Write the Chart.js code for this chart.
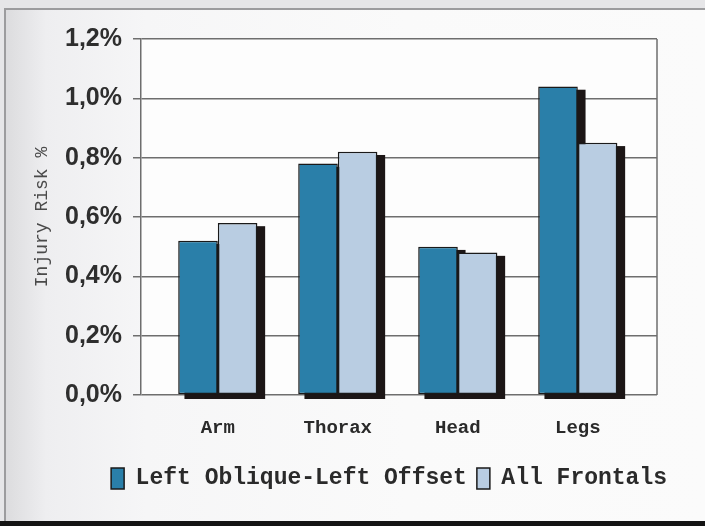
<!DOCTYPE html>
<html>
<head>
<meta charset="utf-8">
<script src="https://cdn.jsdelivr.net/npm/chart.js@4"></script>
<style>
  html, body { margin: 0; padding: 0; }
  body { width: 705px; height: 526px; background: #e6e6e8; position: relative; overflow: hidden; }
  .sheet {
    position: absolute; left: 4px; top: 8px; width: 700px; height: 512px;
    border-left: 2px solid #9c9c9e; border-top: 2px solid #9c9c9e;
    background: linear-gradient(to right, #dcdcde 0px, #eeeef0 40px, #f6f6f7 140px, #fafafa 400px, #fbfbfb 705px);
  }
  .edge { position: absolute; left: 0; top: 521px; width: 705px; height: 5px; background: #141414; }
  #wrap { position: absolute; left: 0; top: 0; width: 705px; height: 526px; }
</style>
</head>
<body>
<div class="sheet"></div>
<div class="edge"></div>
<div id="wrap"><canvas id="chart" width="705" height="526"></canvas></div>
<script>
// Injury risk (%) by body region
const categories = ['Arm', 'Thorax', 'Head', 'Legs'];
const leftObliqueLeftOffset = [0.52, 0.78, 0.50, 1.04];
const allFrontals = [0.58, 0.82, 0.48, 0.85];
const seriesNames = ['Left Oblique-Left Offset', 'All Frontals'];
const yTicks = [0.0, 0.2, 0.4, 0.6, 0.8, 1.0, 1.2];

const toPoints = vals => vals.map((v, i) => ({ x: i, y: v }));
const fmtPct = v => v.toFixed(1).replace('.', ',') + '%';
const isMajor = v => yTicks.some(t => Math.abs(t - v) < 1e-6);
const monoFont = "'Liberation Mono', 'Courier New', monospace";

// Plot background and right edge of the plot frame
const plotFrame = {
  id: 'plotFrame',
  beforeDraw(chart) {
    const { ctx, chartArea: a } = chart;
    ctx.save();
    ctx.fillStyle = '#fdfdfd';
    ctx.fillRect(a.left, a.top, a.right - a.left, a.bottom - a.top);
    ctx.restore();
  },
  afterDraw(chart) {
    const { ctx, chartArea: a } = chart;
    ctx.save();
    ctx.strokeStyle = '#6e6e6e';
    ctx.lineWidth = 1.5;
    ctx.beginPath();
    ctx.moveTo(a.right, a.top);
    ctx.lineTo(a.right, a.bottom);
    ctx.stroke();
    ctx.restore();
  }
};

// Solid drop shadow cast by every bar, laid down before any bar is painted
const barShadow = {
  id: 'barShadow',
  beforeDatasetsDraw(chart) {
    const ctx = chart.ctx;
    ctx.save();
    ctx.fillStyle = '#1c1616';
    chart.getSortedVisibleDatasetMetas().forEach(meta => {
      meta.data.forEach(bar => {
        const { x, y, base, width } = bar.getProps(['x', 'y', 'base', 'width'], true);
        const left = x - width / 2 - 0.75;
        const top = Math.min(y, base) - 0.75;
        const h = Math.abs(base - y) + 1.5;
        ctx.fillRect(left + 7, top + 4, width + 1.5, h);
      });
    });
    ctx.restore();
  }
};

new Chart(document.getElementById('chart'), {
  type: 'bar',
  data: {
    datasets: [
      {
        label: seriesNames[0],
        data: toPoints(leftObliqueLeftOffset),
        backgroundColor: '#2a7fa9',
        borderColor: '#1a1a1a',
        borderWidth: 1.5,
        borderSkipped: false,
        clip: false
      },
      {
        label: seriesNames[1],
        data: toPoints(allFrontals),
        backgroundColor: '#b9cde2',
        borderColor: '#1a1a1a',
        borderWidth: 1.5,
        borderSkipped: false,
        clip: false
      }
    ]
  },
  options: {
    responsive: false,
    animation: false,
    devicePixelRatio: 1,
    categoryPercentage: 0.66,
    barPercentage: 1.0,
    layout: { padding: { left: 62, right: 28, top: 39, bottom: 26 } },
    plugins: {
      tooltip: { enabled: false },
      legend: {
        position: 'bottom',
        align: 'end',
        labels: {
          color: '#2a2a2a',
          font: { family: monoFont, size: 23, weight: 'bold' },
          boxWidth: 13,
          boxHeight: 21,
          padding: 10,
          generateLabels(chart) {
            return chart.data.datasets.map((ds, i) => ({
              text: ds.label,
              fillStyle: ds.backgroundColor,
              strokeStyle: '#1a1a1a',
              lineWidth: 1.5,
              datasetIndex: i,
              fontColor: '#2a2a2a'
            }));
          }
        }
      }
    },
    scales: {
      x: {
        type: 'linear',
        offset: false,
        min: -0.64,
        max: 3.66,
        grid: { display: false },
        border: { display: false },
        ticks: {
          stepSize: 1,
          includeBounds: false,
          autoSkip: false,
          maxRotation: 0,
          padding: 14,
          color: '#2a2a2a',
          font: { family: monoFont, size: 19, weight: 'bold' },
          callback: v => (Number.isInteger(v) && categories[v] !== undefined) ? categories[v] : ''
        },
        afterFit: s => { s.height = 62; }
      },
      y: {
        min: 0,
        max: 1.2,
        grid: {
          color: '#6e6e6e',
          lineWidth: 1.5,
          tickLength: 8,
          tickColor: c => isMajor(c.tick.value) ? '#6e6e6e' : 'rgba(0,0,0,0)'
        },
        border: { display: true, color: '#6e6e6e', width: 1.5 },
        ticks: {
          stepSize: 0.1,
          padding: 11,
          color: '#2e2e2e',
          font: { family: "'Liberation Sans Narrow', 'Arial Narrow', 'Liberation Sans', sans-serif", size: 25, weight: 'bold' },
          callback: v => isMajor(v) ? fmtPct(v) : ''
        },
        title: {
          display: true,
          text: 'Injury Risk %',
          color: '#4a4a4a',
          font: { family: monoFont, size: 18 },
          padding: { top: -31, bottom: 0 }
        },
        afterFit: s => { s.width = 79; }
      },
      // empty right-hand axis that reserves the margin beside the plot
      yRight: {
        position: 'right',
        display: true,
        grid: { display: false },
        border: { display: false },
        ticks: { display: false },
        afterFit: s => { s.width = 20; }
      }
    }
  },
  plugins: [plotFrame, barShadow]
});
</script>
</body>
</html>
